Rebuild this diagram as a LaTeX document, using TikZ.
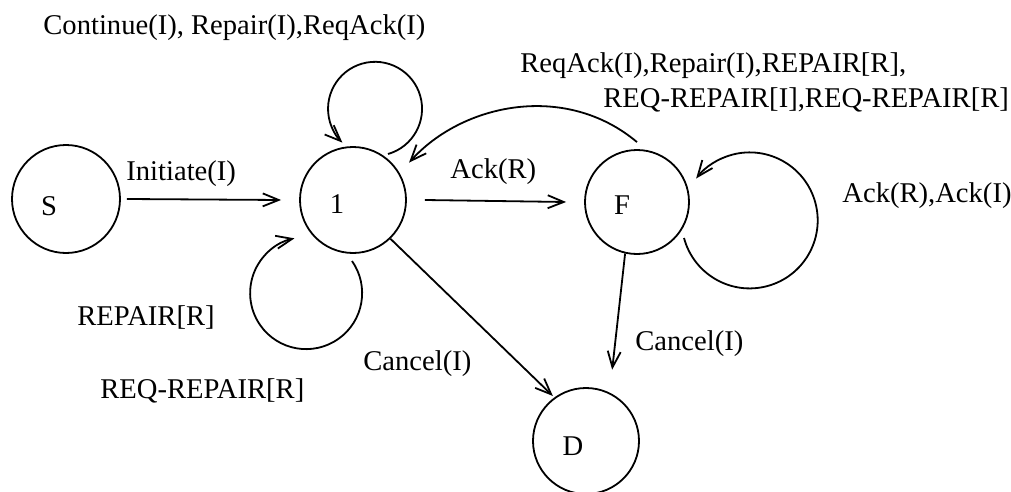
\documentclass[tikz,border=0pt]{standalone}
\usepackage{fontspec}
\setmainfont{Liberation Serif}
\usetikzlibrary{arrows.meta}
\begin{document}
\begin{tikzpicture}[x=0.5pt,y=-0.5pt,
  state/.style={draw,circle,line width=0.9pt,inner sep=0pt,minimum size=#1},
  statename/.style={inner sep=0pt,font=\fontsize{14.3}{16}\selectfont},
  lbl/.style={anchor=base west,inner sep=0pt,font=\fontsize{14.3}{16}\selectfont},
  arr/.style={line width=0.9pt,-{Straight Barb[length=8pt,width=6.5pt]}}
]
\useasboundingbox (0,0) rectangle (1011,492);

% states
\node[state=54pt] (S)  at (66,199)  {};
\node[state=53pt] (n1) at (353,200) {};
\node[state=52pt] (F)  at (637,202) {};
\node[state=53pt] (D)  at (586,441) {};

\node[statename] (S-name)  at (49,206)  {S};
\node[statename] (n1-name) at (337,204) {1};
\node[statename] (F-name)  at (622,205) {F};
\node[statename] (D-name)  at (573,446) {D};

% transitions
\draw[arr] ([xshift=3pt]S.east) -- ([xshift=-9pt]n1.west);
\draw[arr] ([xshift=9pt]n1.east) -- ([xshift=-9pt]F.west);
\draw[arr, shorten >=1pt] (n1.-46) -- (D.126);
\draw[arr, shorten >=11.5pt] (F.-103) -- (D.64);
\draw[arr, shorten >=7pt] ([yshift=3.5pt]F.north) to[out=140,in=48] (n1.30);

% self loops
\draw[arr] ([shift={(35,-46)}]n1.center) arc[start angle=-74,end angle=226,radius=23.5pt];
\draw[arr] ([shift={(-1,61)}]n1.center) arc[start angle=35,end angle=-258,radius=28pt];
\draw[arr] ([shift={(47,36)}]F.center) arc[start angle=195,end angle=502,radius=34pt];

% transition labels
\node[lbl] (l-top)   at (43,35)   {Continue(I), Repair(I),ReqAck(I)};
\node[lbl] (l-init)  at (126,180) {Initiate(I)};
\node[lbl] (l-ack)   at (450,178) {Ack(R)};
\node[lbl] (l-back1) at (520,73)  {ReqAck(I),Repair(I),REPAIR[R],};
\node[lbl] (l-back2) at (603,107) {REQ-REPAIR[I],REQ-REPAIR[R]};
\node[lbl] (l-floop) at (842,202) {Ack(R),Ack(I)};
\node[lbl] (l-rep)   at (77,325)  {REPAIR[R]};
\node[lbl] (l-reqrep) at (100,398) {REQ-REPAIR[R]};
\node[lbl] (l-can1)  at (363,370) {Cancel(I)};
\node[lbl] (l-can2)  at (635,350) {Cancel(I)};
\end{tikzpicture}
\end{document}
